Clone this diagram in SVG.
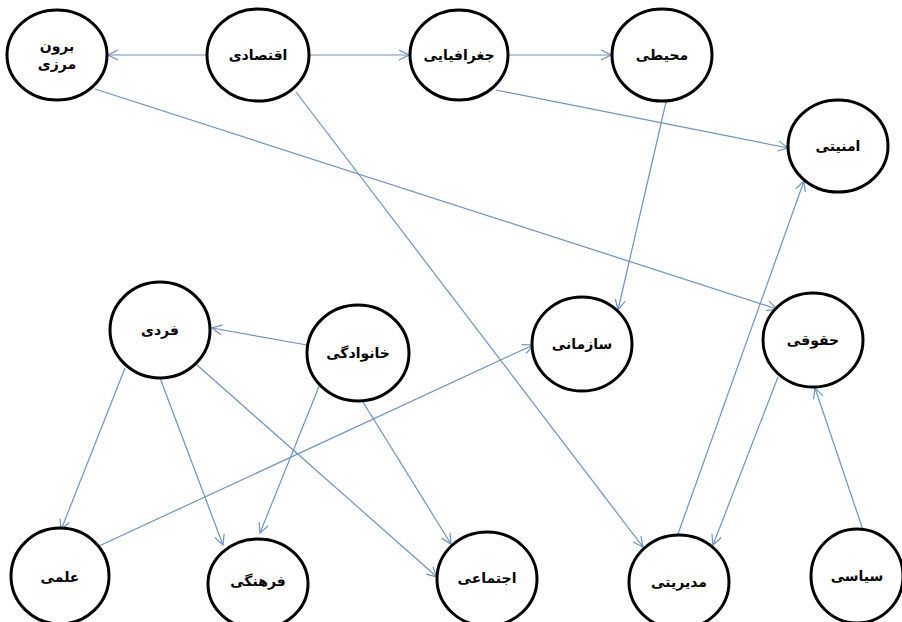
<svg xmlns="http://www.w3.org/2000/svg" width="902" height="622" viewBox="0 0 902 622">
<defs>
<marker id="arr" markerUnits="userSpaceOnUse" markerWidth="12" markerHeight="12" viewBox="0 0 12 12" refX="11" refY="6" orient="auto">
<path d="M1,1 L11,6 L1,11" fill="none" stroke="#6f93bf" stroke-width="1.2"/>
</marker>
<style>
.n ellipse{fill:#fff;stroke:#000;stroke-width:3}
.n text{font-family:"DejaVu Sans",sans-serif;font-weight:bold;font-size:14px;text-anchor:middle;fill:#000}
#edges line{stroke:#6f93bf;stroke-width:1.2;marker-end:url(#arr)}
</style>
</defs>
<rect width="902" height="622" fill="#fff"/>
<g id="edges">
<line x1="207" y1="55" x2="108" y2="55"/>
<line x1="310" y1="55" x2="409" y2="55"/>
<line x1="508" y1="55" x2="611" y2="55"/>
<line x1="496" y1="90" x2="788" y2="148"/>
<line x1="95" y1="89" x2="777" y2="309"/>
<line x1="296" y1="92" x2="643" y2="547"/>
<line x1="666" y1="102" x2="618" y2="310"/>
<line x1="678" y1="534" x2="804" y2="181"/>
<line x1="778" y1="377" x2="713" y2="545"/>
<line x1="863" y1="530" x2="815" y2="388"/>
<line x1="307" y1="345" x2="212" y2="328"/>
<line x1="99" y1="546" x2="533" y2="345"/>
<line x1="125" y1="368" x2="61" y2="530"/>
<line x1="160" y1="378" x2="223" y2="545"/>
<line x1="197" y1="365" x2="437" y2="577"/>
<line x1="320" y1="384" x2="260" y2="533"/>
<line x1="358" y1="394" x2="451" y2="544"/>
</g>
<g id="boroon-marzi" class="n"><ellipse cx="57" cy="55" rx="50" ry="45"/><text x="57" y="51">برون</text><text x="57" y="69">مرزی</text></g>
<g id="eghtesadi" class="n"><ellipse cx="258" cy="55" rx="51" ry="46"/><text x="258" y="60">اقتصادی</text></g>
<g id="joghrafiayi" class="n"><ellipse cx="459" cy="55" rx="49" ry="45"/><text x="459" y="60">جغرافیایی</text></g>
<g id="mohiti" class="n"><ellipse cx="662" cy="55" rx="50" ry="46"/><text x="662" y="60">محیطی</text></g>
<g id="amniyati" class="n"><ellipse cx="838" cy="146" rx="50" ry="46"/><text x="838" y="151">امنیتی</text></g>
<g id="fardi" class="n"><ellipse cx="160" cy="330" rx="50" ry="48"/><text x="160" y="335">فردی</text></g>
<g id="khanevadegi" class="n"><ellipse cx="358" cy="353" rx="51" ry="48"/><text x="358" y="358">خانوادگی</text></g>
<g id="sazmani" class="n"><ellipse cx="582" cy="344" rx="50" ry="47"/><text x="582" y="349">سازمانی</text></g>
<g id="hoghooghi" class="n"><ellipse cx="813" cy="340" rx="50" ry="47"/><text x="813" y="345">حقوقی</text></g>
<g id="elmi" class="n"><ellipse cx="60" cy="576" rx="49" ry="48"/><text x="60" y="582">علمی</text></g>
<g id="farhangi" class="n"><ellipse cx="258" cy="584" rx="50" ry="45"/><text x="258" y="586">فرهنگی</text></g>
<g id="ejtemai" class="n"><ellipse cx="487" cy="579" rx="50" ry="47"/><text x="487" y="583">اجتماعی</text></g>
<g id="modiriyati" class="n"><ellipse cx="679" cy="582" rx="50" ry="47"/><text x="679" y="587">مدیریتی</text></g>
<g id="siyasi" class="n"><ellipse cx="857" cy="576" rx="46" ry="47"/><text x="857" y="581">سیاسی</text></g>
</svg>
